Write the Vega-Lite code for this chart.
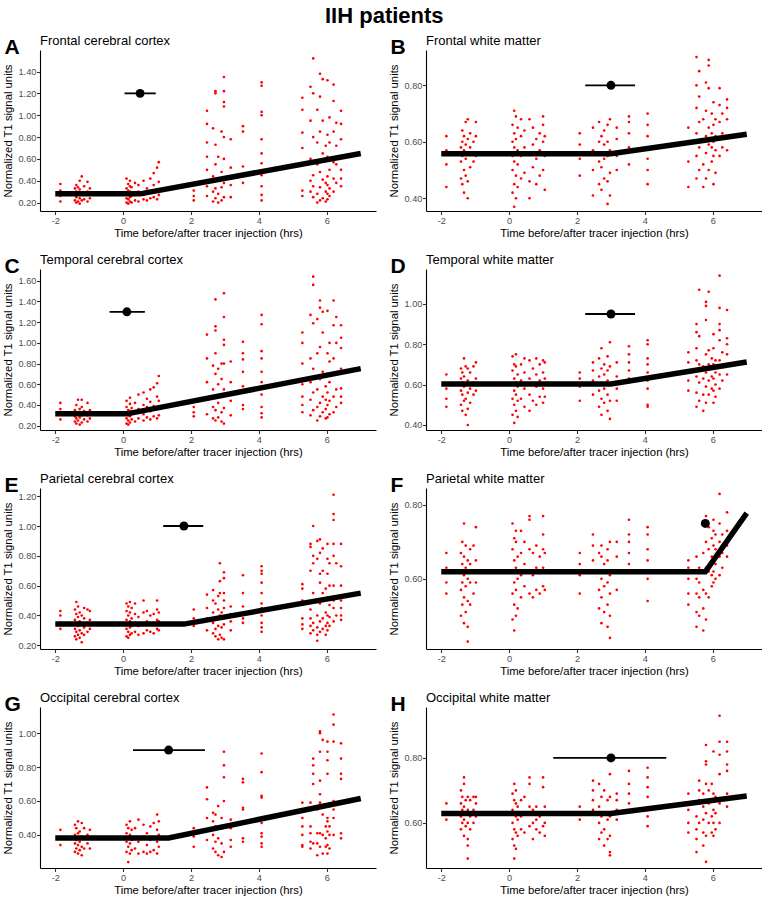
{
  "$schema": "https://vega.github.io/schema/vega-lite/v6.json",
  "title": {"text": "IIH patients", "anchor": "middle", "frame": "bounds", "fontSize": 22, "fontWeight": "bold", "offset": -9.6, "baseline": "alphabetic"},
  "padding": {"left": 2, "top": 4, "right": 0, "bottom": 0},
  "columns": 2,
  "spacing": {"row": 15, "column": 12},
  "config": {
    "font": "Liberation Sans",
    "view": {"stroke": null},
    "axis": {"grid": false, "labelOverlap": false, "domainColor": "#000000", "domainWidth": 1.1, "tickColor": "#333333", "tickWidth": 1.1, "tickSize": 3.5, "labelColor": "#4d4d4d", "labelFontSize": 9.2, "labelFont": "Liberation Sans", "titleFont": "Liberation Sans", "titleColor": "#000000", "titleFontSize": 11.3, "titleFontWeight": "normal"},
    "axisX": {"labelPadding": 1.6, "titlePadding": 2},
    "axisY": {"labelPadding": 0.6, "titlePadding": 4.5, "labelOverlap": false},
    "title": {"font": "Liberation Sans", "color": "#000000", "anchor": "start", "frame": "bounds", "fontSize": 21, "fontWeight": "bold", "baseline": "alphabetic", "offset": -23, "dx": 2}
  },
  "datasets": {
    "fits": [
      {"p": "A", "t": -2, "v": 0.28}, {"p": "A", "t": 0.5, "v": 0.28}, {"p": "A", "t": 7, "v": 0.65},
      {"p": "B", "t": -2, "v": 0.558}, {"p": "B", "t": 3.0, "v": 0.558}, {"p": "B", "t": 7, "v": 0.627},
      {"p": "C", "t": -2, "v": 0.314}, {"p": "C", "t": 0.11, "v": 0.314}, {"p": "C", "t": 7, "v": 0.751},
      {"p": "D", "t": -2, "v": 0.603}, {"p": "D", "t": 3.0, "v": 0.603}, {"p": "D", "t": 7, "v": 0.712},
      {"p": "E", "t": -2, "v": 0.342}, {"p": "E", "t": 1.79, "v": 0.342}, {"p": "E", "t": 7, "v": 0.55},
      {"p": "F", "t": -2, "v": 0.619}, {"p": "F", "t": 5.78, "v": 0.619}, {"p": "F", "t": 7, "v": 0.778},
      {"p": "G", "t": -2, "v": 0.382}, {"p": "G", "t": 1.34, "v": 0.382}, {"p": "G", "t": 7, "v": 0.615},
      {"p": "H", "t": -2, "v": 0.629}, {"p": "H", "t": 3.0, "v": 0.629}, {"p": "H", "t": 7, "v": 0.683}
    ],
    "est": [
      {"p": "A", "t": 0.5, "v": 1.2, "lo": 0.04, "hi": 0.96},
      {"p": "B", "t": 3.0, "v": 0.8, "lo": 2.24, "hi": 3.71},
      {"p": "C", "t": 0.11, "v": 1.3, "lo": -0.4, "hi": 0.64},
      {"p": "D", "t": 3.0, "v": 0.95, "lo": 2.24, "hi": 3.71},
      {"p": "E", "t": 1.79, "v": 1.0, "lo": 1.18, "hi": 2.36},
      {"p": "F", "t": 5.78, "v": 0.75, "lo": 5.7, "hi": 5.86},
      {"p": "G", "t": 1.34, "v": 0.9, "lo": 0.29, "hi": 2.41},
      {"p": "H", "t": 3.0, "v": 0.8, "lo": 1.3, "hi": 4.63}
    ],
    "A": [
      {"t":-1.85,"v":0.21},{"t":-1.85,"v":0.26},{"t":-1.85,"v":0.31},{"t":-1.85,"v":0.37},
      {"t":-1.42,"v":0.22},{"t":-1.42,"v":0.27},{"t":-1.42,"v":0.33},
      {"t":-1.38,"v":0.20},{"t":-1.38,"v":0.25},{"t":-1.38,"v":0.30},{"t":-1.38,"v":0.36},
      {"t":-1.33,"v":0.21},{"t":-1.33,"v":0.28},{"t":-1.33,"v":0.34},
      {"t":-1.28,"v":0.19},{"t":-1.28,"v":0.24},{"t":-1.28,"v":0.32},{"t":-1.28,"v":0.40},
      {"t":-1.22,"v":0.22},{"t":-1.22,"v":0.29},{"t":-1.22,"v":0.44},
      {"t":-1.15,"v":0.23},{"t":-1.15,"v":0.27},{"t":-1.15,"v":0.35},
      {"t":-1.05,"v":0.21},{"t":-1.05,"v":0.30},{"t":-1.05,"v":0.39},
      {"t":-0.98,"v":0.24},{"t":-0.98,"v":0.33},
      {"t":0.1,"v":0.20},{"t":0.1,"v":0.24},{"t":0.1,"v":0.28},{"t":0.1,"v":0.33},{"t":0.1,"v":0.42},
      {"t":0.15,"v":0.19},{"t":0.15,"v":0.23},{"t":0.15,"v":0.27},{"t":0.15,"v":0.31},{"t":0.15,"v":0.37},
      {"t":0.2,"v":0.21},{"t":0.2,"v":0.25},{"t":0.2,"v":0.30},{"t":0.2,"v":0.35},{"t":0.2,"v":0.40},
      {"t":0.25,"v":0.20},{"t":0.25,"v":0.26},{"t":0.25,"v":0.29},{"t":0.25,"v":0.34},
      {"t":0.35,"v":0.22},{"t":0.35,"v":0.28},{"t":0.35,"v":0.38},
      {"t":0.45,"v":0.21},{"t":0.45,"v":0.30},{"t":0.45,"v":0.36},
      {"t":0.6,"v":0.23},{"t":0.6,"v":0.27},{"t":0.6,"v":0.40},
      {"t":0.7,"v":0.22},{"t":0.7,"v":0.33},
      {"t":0.8,"v":0.24},{"t":0.8,"v":0.31},{"t":0.8,"v":0.42},
      {"t":0.9,"v":0.25},{"t":0.9,"v":0.36},{"t":0.9,"v":0.47},
      {"t":1.0,"v":0.23},{"t":1.0,"v":0.32},{"t":1.0,"v":0.52},
      {"t":1.05,"v":0.27},{"t":1.05,"v":0.39},{"t":1.05,"v":0.57},
      {"t":2.08,"v":0.22},{"t":2.08,"v":0.26},{"t":2.08,"v":0.31},
      {"t":2.47,"v":0.26},{"t":2.47,"v":0.35},{"t":2.47,"v":0.50},{"t":2.47,"v":0.62},{"t":2.47,"v":0.75},{"t":2.47,"v":0.92},{"t":2.47,"v":1.04},
      {"t":2.65,"v":0.21},{"t":2.65,"v":0.30},{"t":2.65,"v":0.44},{"t":2.65,"v":0.88},
      {"t":2.72,"v":0.24},{"t":2.72,"v":0.33},{"t":2.72,"v":0.55},{"t":2.72,"v":0.73},{"t":2.72,"v":1.20},{"t":2.72,"v":1.22},
      {"t":2.8,"v":0.20},{"t":2.8,"v":0.28},{"t":2.8,"v":0.40},{"t":2.8,"v":0.62},
      {"t":2.9,"v":0.22},{"t":2.9,"v":0.34},{"t":2.9,"v":0.48},{"t":2.9,"v":0.85},
      {"t":2.97,"v":0.25},{"t":2.97,"v":0.38},{"t":2.97,"v":0.60},{"t":2.97,"v":0.80},{"t":2.97,"v":1.08},{"t":2.97,"v":1.12},{"t":2.97,"v":1.22},{"t":2.97,"v":1.35},
      {"t":3.17,"v":0.25},{"t":3.17,"v":0.36},{"t":3.17,"v":0.52},{"t":3.17,"v":0.78},
      {"t":3.53,"v":0.38},{"t":3.53,"v":0.45},{"t":3.53,"v":0.53},{"t":3.53,"v":0.85},{"t":3.53,"v":0.90},
      {"t":4.08,"v":0.22},{"t":4.08,"v":0.27},{"t":4.08,"v":0.35},{"t":4.08,"v":0.45},{"t":4.08,"v":0.56},{"t":4.08,"v":0.65},{"t":4.08,"v":0.78},{"t":4.08,"v":1.00},{"t":4.08,"v":1.03},{"t":4.08,"v":1.27},{"t":4.08,"v":1.30},
      {"t":5.28,"v":0.26},{"t":5.28,"v":0.31},{"t":5.28,"v":0.55},{"t":5.28,"v":0.70},{"t":5.28,"v":0.84},{"t":5.28,"v":1.05},{"t":5.28,"v":1.16},
      {"t":5.52,"v":0.30},{"t":5.52,"v":0.40},{"t":5.52,"v":0.60},{"t":5.52,"v":0.95},{"t":5.52,"v":1.26},
      {"t":5.6,"v":0.25},{"t":5.6,"v":0.35},{"t":5.6,"v":0.45},{"t":5.6,"v":0.80},{"t":5.6,"v":1.20},{"t":5.6,"v":1.52},
      {"t":5.72,"v":0.20},{"t":5.72,"v":0.28},{"t":5.72,"v":0.55},{"t":5.72,"v":0.75},{"t":5.72,"v":1.05},
      {"t":5.8,"v":0.22},{"t":5.8,"v":0.34},{"t":5.8,"v":0.48},{"t":5.8,"v":0.85},{"t":5.8,"v":1.17},{"t":5.8,"v":1.38},
      {"t":5.88,"v":0.24},{"t":5.88,"v":0.41},{"t":5.88,"v":0.65},{"t":5.88,"v":0.95},{"t":5.88,"v":1.33},
      {"t":5.97,"v":0.21},{"t":5.97,"v":0.30},{"t":5.97,"v":0.38},{"t":5.97,"v":0.58},{"t":5.97,"v":0.72},
      {"t":6.02,"v":0.23},{"t":6.02,"v":0.28},{"t":6.02,"v":0.36},{"t":6.02,"v":0.44},{"t":6.02,"v":0.62},{"t":6.02,"v":0.82},{"t":6.02,"v":1.32},
      {"t":6.08,"v":0.26},{"t":6.08,"v":0.33},{"t":6.08,"v":0.50},{"t":6.08,"v":0.75},{"t":6.08,"v":0.98},
      {"t":6.2,"v":0.30},{"t":6.2,"v":0.42},{"t":6.2,"v":0.57},{"t":6.2,"v":0.85},{"t":6.2,"v":1.13},{"t":6.2,"v":1.28},
      {"t":6.28,"v":0.38},{"t":6.28,"v":0.55},{"t":6.28,"v":0.72},{"t":6.28,"v":0.93},
      {"t":6.42,"v":0.35},{"t":6.42,"v":0.42},{"t":6.42,"v":0.50},{"t":6.42,"v":0.62},{"t":6.42,"v":0.78},{"t":6.42,"v":0.92},{"t":6.42,"v":1.04}
    ],
    "B": [
      {"t":-1.85,"v":0.44},{"t":-1.85,"v":0.52},{"t":-1.85,"v":0.57},{"t":-1.85,"v":0.62},
      {"t":-1.42,"v":0.47},{"t":-1.42,"v":0.53},{"t":-1.42,"v":0.58},
      {"t":-1.38,"v":0.45},{"t":-1.38,"v":0.55},{"t":-1.38,"v":0.60},{"t":-1.38,"v":0.64},
      {"t":-1.33,"v":0.42},{"t":-1.33,"v":0.50},{"t":-1.33,"v":0.57},{"t":-1.33,"v":0.62},
      {"t":-1.28,"v":0.48},{"t":-1.28,"v":0.54},{"t":-1.28,"v":0.59},{"t":-1.28,"v":0.67},
      {"t":-1.22,"v":0.40},{"t":-1.22,"v":0.46},{"t":-1.22,"v":0.56},{"t":-1.22,"v":0.61},{"t":-1.22,"v":0.68},
      {"t":-1.15,"v":0.51},{"t":-1.15,"v":0.58},{"t":-1.15,"v":0.63},
      {"t":-1.05,"v":0.53},{"t":-1.05,"v":0.60},
      {"t":-0.98,"v":0.55},{"t":-0.98,"v":0.62},{"t":-0.98,"v":0.67},
      {"t":0.1,"v":0.42},{"t":0.1,"v":0.50},{"t":0.1,"v":0.55},{"t":0.1,"v":0.60},{"t":0.1,"v":0.66},
      {"t":0.15,"v":0.37},{"t":0.15,"v":0.45},{"t":0.15,"v":0.53},{"t":0.15,"v":0.58},{"t":0.15,"v":0.63},{"t":0.15,"v":0.71},
      {"t":0.2,"v":0.40},{"t":0.2,"v":0.48},{"t":0.2,"v":0.56},{"t":0.2,"v":0.61},{"t":0.2,"v":0.69},
      {"t":0.25,"v":0.44},{"t":0.25,"v":0.52},{"t":0.25,"v":0.57},{"t":0.25,"v":0.65},
      {"t":0.35,"v":0.47},{"t":0.35,"v":0.55},{"t":0.35,"v":0.62},{"t":0.35,"v":0.68},
      {"t":0.45,"v":0.49},{"t":0.45,"v":0.58},{"t":0.45,"v":0.64},
      {"t":0.6,"v":0.40},{"t":0.6,"v":0.46},{"t":0.6,"v":0.56},{"t":0.6,"v":0.68},
      {"t":0.7,"v":0.51},{"t":0.7,"v":0.59},{"t":0.7,"v":0.65},
      {"t":0.8,"v":0.45},{"t":0.8,"v":0.54},{"t":0.8,"v":0.61},
      {"t":0.9,"v":0.48},{"t":0.9,"v":0.57},{"t":0.9,"v":0.63},
      {"t":1.0,"v":0.50},{"t":1.0,"v":0.60},{"t":1.0,"v":0.66},{"t":1.0,"v":0.69},
      {"t":1.05,"v":0.43},{"t":1.05,"v":0.55},{"t":1.05,"v":0.62},
      {"t":2.08,"v":0.48},{"t":2.08,"v":0.54},{"t":2.08,"v":0.59},{"t":2.08,"v":0.63},
      {"t":2.47,"v":0.41},{"t":2.47,"v":0.50},{"t":2.47,"v":0.57},{"t":2.47,"v":0.65},
      {"t":2.65,"v":0.45},{"t":2.65,"v":0.53},{"t":2.65,"v":0.60},{"t":2.65,"v":0.67},
      {"t":2.72,"v":0.43},{"t":2.72,"v":0.51},{"t":2.72,"v":0.56},{"t":2.72,"v":0.62},
      {"t":2.8,"v":0.47},{"t":2.8,"v":0.54},{"t":2.8,"v":0.59},{"t":2.8,"v":0.64},
      {"t":2.9,"v":0.38},{"t":2.9,"v":0.46},{"t":2.9,"v":0.55},{"t":2.9,"v":0.60},{"t":2.9,"v":0.66},
      {"t":2.97,"v":0.41},{"t":2.97,"v":0.49},{"t":2.97,"v":0.57},{"t":2.97,"v":0.68},
      {"t":3.17,"v":0.50},{"t":3.17,"v":0.55},{"t":3.17,"v":0.61},{"t":3.17,"v":0.65},
      {"t":3.53,"v":0.52},{"t":3.53,"v":0.58},{"t":3.53,"v":0.63},{"t":3.53,"v":0.67},{"t":3.53,"v":0.69},
      {"t":4.08,"v":0.45},{"t":4.08,"v":0.50},{"t":4.08,"v":0.54},{"t":4.08,"v":0.58},{"t":4.08,"v":0.62},{"t":4.08,"v":0.66},{"t":4.08,"v":0.70},
      {"t":5.28,"v":0.44},{"t":5.28,"v":0.53},{"t":5.28,"v":0.60},{"t":5.28,"v":0.65},
      {"t":5.52,"v":0.47},{"t":5.52,"v":0.55},{"t":5.52,"v":0.63},{"t":5.52,"v":0.72},{"t":5.52,"v":0.80},{"t":5.52,"v":0.90},
      {"t":5.6,"v":0.50},{"t":5.6,"v":0.58},{"t":5.6,"v":0.67},{"t":5.6,"v":0.76},{"t":5.6,"v":0.85},
      {"t":5.72,"v":0.44},{"t":5.72,"v":0.52},{"t":5.72,"v":0.60},{"t":5.72,"v":0.68},
      {"t":5.8,"v":0.47},{"t":5.8,"v":0.56},{"t":5.8,"v":0.62},{"t":5.8,"v":0.71},{"t":5.8,"v":0.81},
      {"t":5.88,"v":0.50},{"t":5.88,"v":0.59},{"t":5.88,"v":0.65},{"t":5.88,"v":0.79},{"t":5.88,"v":0.87},{"t":5.88,"v":0.89},
      {"t":5.97,"v":0.53},{"t":5.97,"v":0.58},{"t":5.97,"v":0.63},{"t":5.97,"v":0.70},
      {"t":6.02,"v":0.45},{"t":6.02,"v":0.55},{"t":6.02,"v":0.60},{"t":6.02,"v":0.66},{"t":6.02,"v":0.74},
      {"t":6.08,"v":0.49},{"t":6.08,"v":0.57},{"t":6.08,"v":0.62},{"t":6.08,"v":0.68},
      {"t":6.2,"v":0.55},{"t":6.2,"v":0.61},{"t":6.2,"v":0.67},{"t":6.2,"v":0.73},{"t":6.2,"v":0.79},
      {"t":6.28,"v":0.58},{"t":6.28,"v":0.63},{"t":6.28,"v":0.70},
      {"t":6.42,"v":0.57},{"t":6.42,"v":0.62},{"t":6.42,"v":0.68},{"t":6.42,"v":0.72},{"t":6.42,"v":0.75}
    ],
    "C": [
      {"t":-1.85,"v":0.26},{"t":-1.85,"v":0.31},{"t":-1.85,"v":0.36},{"t":-1.85,"v":0.42},
      {"t":-1.42,"v":0.24},{"t":-1.42,"v":0.29},{"t":-1.42,"v":0.35},
      {"t":-1.38,"v":0.22},{"t":-1.38,"v":0.27},{"t":-1.38,"v":0.33},{"t":-1.38,"v":0.40},
      {"t":-1.33,"v":0.25},{"t":-1.33,"v":0.31},{"t":-1.33,"v":0.45},
      {"t":-1.28,"v":0.21},{"t":-1.28,"v":0.28},{"t":-1.28,"v":0.36},
      {"t":-1.22,"v":0.23},{"t":-1.22,"v":0.30},{"t":-1.22,"v":0.38},{"t":-1.22,"v":0.45},
      {"t":-1.15,"v":0.26},{"t":-1.15,"v":0.34},
      {"t":-1.05,"v":0.24},{"t":-1.05,"v":0.30},{"t":-1.05,"v":0.42},
      {"t":-0.98,"v":0.27},{"t":-0.98,"v":0.35},
      {"t":0.1,"v":0.22},{"t":0.1,"v":0.27},{"t":0.1,"v":0.32},{"t":0.1,"v":0.38},{"t":0.1,"v":0.44},
      {"t":0.15,"v":0.21},{"t":0.15,"v":0.25},{"t":0.15,"v":0.30},{"t":0.15,"v":0.35},
      {"t":0.2,"v":0.23},{"t":0.2,"v":0.29},{"t":0.2,"v":0.34},{"t":0.2,"v":0.41},{"t":0.2,"v":0.47},
      {"t":0.25,"v":0.26},{"t":0.25,"v":0.31},{"t":0.25,"v":0.37},
      {"t":0.35,"v":0.24},{"t":0.35,"v":0.33},{"t":0.35,"v":0.42},
      {"t":0.45,"v":0.27},{"t":0.45,"v":0.36},{"t":0.45,"v":0.50},
      {"t":0.6,"v":0.25},{"t":0.6,"v":0.31},{"t":0.6,"v":0.40},{"t":0.6,"v":0.52},
      {"t":0.7,"v":0.28},{"t":0.7,"v":0.38},{"t":0.7,"v":0.46},
      {"t":0.8,"v":0.26},{"t":0.8,"v":0.34},{"t":0.8,"v":0.43},{"t":0.8,"v":0.55},
      {"t":0.9,"v":0.29},{"t":0.9,"v":0.39},{"t":0.9,"v":0.57},
      {"t":1.0,"v":0.27},{"t":1.0,"v":0.36},{"t":1.0,"v":0.48},{"t":1.0,"v":0.61},
      {"t":1.05,"v":0.30},{"t":1.05,"v":0.44},{"t":1.05,"v":0.68},
      {"t":2.08,"v":0.29},{"t":2.08,"v":0.33},{"t":2.08,"v":0.38},
      {"t":2.47,"v":0.31},{"t":2.47,"v":0.45},{"t":2.47,"v":0.62},{"t":2.47,"v":0.85},{"t":2.47,"v":1.08},
      {"t":2.65,"v":0.27},{"t":2.65,"v":0.38},{"t":2.65,"v":0.55},{"t":2.65,"v":0.78},
      {"t":2.72,"v":0.25},{"t":2.72,"v":0.35},{"t":2.72,"v":0.48},{"t":2.72,"v":0.70},{"t":2.72,"v":0.90},{"t":2.72,"v":1.12},{"t":2.72,"v":1.16},{"t":2.72,"v":1.42},
      {"t":2.8,"v":0.28},{"t":2.8,"v":0.42},{"t":2.8,"v":0.60},{"t":2.8,"v":0.75},
      {"t":2.9,"v":0.24},{"t":2.9,"v":0.33},{"t":2.9,"v":0.50},{"t":2.9,"v":0.65},{"t":2.9,"v":0.80},
      {"t":2.97,"v":0.22},{"t":2.97,"v":0.37},{"t":2.97,"v":0.55},{"t":2.97,"v":0.80},{"t":2.97,"v":0.98},{"t":2.97,"v":1.03},{"t":2.97,"v":1.25},{"t":2.97,"v":1.48},
      {"t":3.17,"v":0.30},{"t":3.17,"v":0.44},{"t":3.17,"v":0.62},{"t":3.17,"v":0.82},
      {"t":3.53,"v":0.36},{"t":3.53,"v":0.40},{"t":3.53,"v":0.58},{"t":3.53,"v":0.72},{"t":3.53,"v":0.84},{"t":3.53,"v":0.90},{"t":3.53,"v":1.01},
      {"t":4.08,"v":0.28},{"t":4.08,"v":0.32},{"t":4.08,"v":0.38},{"t":4.08,"v":0.50},{"t":4.08,"v":0.62},{"t":4.08,"v":0.72},{"t":4.08,"v":0.85},{"t":4.08,"v":0.92},{"t":4.08,"v":1.18},{"t":4.08,"v":1.27},
      {"t":5.28,"v":0.33},{"t":5.28,"v":0.40},{"t":5.28,"v":0.48},{"t":5.28,"v":0.60},{"t":5.28,"v":0.80},{"t":5.28,"v":1.00},{"t":5.28,"v":1.10},
      {"t":5.52,"v":0.30},{"t":5.52,"v":0.45},{"t":5.52,"v":0.62},{"t":5.52,"v":0.85},{"t":5.52,"v":1.27},
      {"t":5.6,"v":0.35},{"t":5.6,"v":0.52},{"t":5.6,"v":0.75},{"t":5.6,"v":1.19},{"t":5.6,"v":1.56},{"t":5.6,"v":1.64},
      {"t":5.72,"v":0.25},{"t":5.72,"v":0.38},{"t":5.72,"v":0.55},{"t":5.72,"v":0.90},{"t":5.72,"v":1.23},
      {"t":5.8,"v":0.29},{"t":5.8,"v":0.42},{"t":5.8,"v":0.65},{"t":5.8,"v":0.96},{"t":5.8,"v":1.34},{"t":5.8,"v":1.41},
      {"t":5.88,"v":0.33},{"t":5.88,"v":0.48},{"t":5.88,"v":0.72},{"t":5.88,"v":1.10},{"t":5.88,"v":1.30},
      {"t":5.97,"v":0.27},{"t":5.97,"v":0.36},{"t":5.97,"v":0.45},{"t":5.97,"v":0.58},
      {"t":6.02,"v":0.28},{"t":6.02,"v":0.40},{"t":6.02,"v":0.52},{"t":6.02,"v":0.70},{"t":6.02,"v":0.90},{"t":6.02,"v":1.31},
      {"t":6.08,"v":0.31},{"t":6.08,"v":0.44},{"t":6.08,"v":0.62},{"t":6.08,"v":0.82},{"t":6.08,"v":1.00},
      {"t":6.2,"v":0.33},{"t":6.2,"v":0.48},{"t":6.2,"v":0.70},{"t":6.2,"v":0.85},{"t":6.2,"v":1.17},{"t":6.2,"v":1.41},
      {"t":6.28,"v":0.38},{"t":6.28,"v":0.55},{"t":6.28,"v":1.00},{"t":6.28,"v":1.25},
      {"t":6.42,"v":0.42},{"t":6.42,"v":0.48},{"t":6.42,"v":0.56},{"t":6.42,"v":0.75},{"t":6.42,"v":0.95},{"t":6.42,"v":1.05},{"t":6.42,"v":1.17}
    ],
    "D": [
      {"t":-1.85,"v":0.49},{"t":-1.85,"v":0.53},{"t":-1.85,"v":0.58},{"t":-1.85,"v":0.65},
      {"t":-1.42,"v":0.50},{"t":-1.42,"v":0.57},{"t":-1.42,"v":0.63},{"t":-1.42,"v":0.68},
      {"t":-1.38,"v":0.47},{"t":-1.38,"v":0.55},{"t":-1.38,"v":0.61},{"t":-1.38,"v":0.66},
      {"t":-1.33,"v":0.52},{"t":-1.33,"v":0.59},{"t":-1.33,"v":0.64},{"t":-1.33,"v":0.73},
      {"t":-1.28,"v":0.45},{"t":-1.28,"v":0.53},{"t":-1.28,"v":0.60},{"t":-1.28,"v":0.69},
      {"t":-1.22,"v":0.40},{"t":-1.22,"v":0.48},{"t":-1.22,"v":0.56},{"t":-1.22,"v":0.62},{"t":-1.22,"v":0.68},
      {"t":-1.15,"v":0.51},{"t":-1.15,"v":0.58},{"t":-1.15,"v":0.66},
      {"t":-1.05,"v":0.55},{"t":-1.05,"v":0.61},{"t":-1.05,"v":0.69},
      {"t":-0.98,"v":0.57},{"t":-0.98,"v":0.63},{"t":-0.98,"v":0.71},
      {"t":0.1,"v":0.45},{"t":0.1,"v":0.53},{"t":0.1,"v":0.60},{"t":0.1,"v":0.67},{"t":0.1,"v":0.74},
      {"t":0.15,"v":0.41},{"t":0.15,"v":0.50},{"t":0.15,"v":0.57},{"t":0.15,"v":0.63},{"t":0.15,"v":0.70},
      {"t":0.2,"v":0.47},{"t":0.2,"v":0.55},{"t":0.2,"v":0.61},{"t":0.2,"v":0.69},{"t":0.2,"v":0.75},
      {"t":0.25,"v":0.44},{"t":0.25,"v":0.52},{"t":0.25,"v":0.59},{"t":0.25,"v":0.65},
      {"t":0.35,"v":0.53},{"t":0.35,"v":0.62},{"t":0.35,"v":0.70},
      {"t":0.45,"v":0.49},{"t":0.45,"v":0.58},{"t":0.45,"v":0.66},{"t":0.45,"v":0.73},
      {"t":0.6,"v":0.47},{"t":0.6,"v":0.55},{"t":0.6,"v":0.63},{"t":0.6,"v":0.72},
      {"t":0.7,"v":0.52},{"t":0.7,"v":0.60},{"t":0.7,"v":0.68},
      {"t":0.8,"v":0.50},{"t":0.8,"v":0.59},{"t":0.8,"v":0.65},{"t":0.8,"v":0.73},
      {"t":0.9,"v":0.54},{"t":0.9,"v":0.62},{"t":0.9,"v":0.70},
      {"t":1.0,"v":0.51},{"t":1.0,"v":0.58},{"t":1.0,"v":0.66},{"t":1.0,"v":0.72},
      {"t":1.05,"v":0.54},{"t":1.05,"v":0.63},{"t":1.05,"v":0.71},
      {"t":2.08,"v":0.52},{"t":2.08,"v":0.59},{"t":2.08,"v":0.63},{"t":2.08,"v":0.66},
      {"t":2.47,"v":0.55},{"t":2.47,"v":0.62},{"t":2.47,"v":0.67},{"t":2.47,"v":0.71},
      {"t":2.65,"v":0.49},{"t":2.65,"v":0.57},{"t":2.65,"v":0.64},{"t":2.65,"v":0.73},
      {"t":2.72,"v":0.45},{"t":2.72,"v":0.53},{"t":2.72,"v":0.60},{"t":2.72,"v":0.68},{"t":2.72,"v":0.78},
      {"t":2.8,"v":0.51},{"t":2.8,"v":0.58},{"t":2.8,"v":0.65},{"t":2.8,"v":0.70},
      {"t":2.9,"v":0.47},{"t":2.9,"v":0.55},{"t":2.9,"v":0.62},{"t":2.9,"v":0.67},{"t":2.9,"v":0.74},
      {"t":2.97,"v":0.43},{"t":2.97,"v":0.52},{"t":2.97,"v":0.60},{"t":2.97,"v":0.69},{"t":2.97,"v":0.81},
      {"t":3.17,"v":0.52},{"t":3.17,"v":0.58},{"t":3.17,"v":0.64},{"t":3.17,"v":0.71},
      {"t":3.53,"v":0.63},{"t":3.53,"v":0.67},{"t":3.53,"v":0.71},{"t":3.53,"v":0.75},{"t":3.53,"v":0.79},
      {"t":4.08,"v":0.49},{"t":4.08,"v":0.50},{"t":4.08,"v":0.58},{"t":4.08,"v":0.62},{"t":4.08,"v":0.66},{"t":4.08,"v":0.70},{"t":4.08,"v":0.73},{"t":4.08,"v":0.80},{"t":4.08,"v":0.82},
      {"t":5.28,"v":0.57},{"t":5.28,"v":0.62},{"t":5.28,"v":0.67},{"t":5.28,"v":0.71},{"t":5.28,"v":0.76},
      {"t":5.52,"v":0.49},{"t":5.52,"v":0.56},{"t":5.52,"v":0.64},{"t":5.52,"v":0.72},{"t":5.52,"v":0.78},{"t":5.52,"v":0.86},{"t":5.52,"v":0.90},
      {"t":5.6,"v":0.52},{"t":5.6,"v":0.61},{"t":5.6,"v":0.70},{"t":5.6,"v":0.84},{"t":5.6,"v":1.07},
      {"t":5.72,"v":0.47},{"t":5.72,"v":0.55},{"t":5.72,"v":0.63},{"t":5.72,"v":0.69},
      {"t":5.8,"v":0.51},{"t":5.8,"v":0.59},{"t":5.8,"v":0.66},{"t":5.8,"v":0.75},{"t":5.8,"v":0.92},{"t":5.8,"v":0.99},{"t":5.8,"v":1.01},
      {"t":5.88,"v":0.55},{"t":5.88,"v":0.62},{"t":5.88,"v":0.70},{"t":5.88,"v":0.77},{"t":5.88,"v":1.06},
      {"t":5.97,"v":0.58},{"t":5.97,"v":0.64},{"t":5.97,"v":0.68},{"t":5.97,"v":0.73},
      {"t":6.02,"v":0.51},{"t":6.02,"v":0.57},{"t":6.02,"v":0.63},{"t":6.02,"v":0.70},{"t":6.02,"v":0.78},{"t":6.02,"v":0.85},
      {"t":6.08,"v":0.54},{"t":6.08,"v":0.60},{"t":6.08,"v":0.66},{"t":6.08,"v":0.72},
      {"t":6.2,"v":0.58},{"t":6.2,"v":0.65},{"t":6.2,"v":0.72},{"t":6.2,"v":0.82},{"t":6.2,"v":0.87},{"t":6.2,"v":0.90},{"t":6.2,"v":0.98},{"t":6.2,"v":1.14},
      {"t":6.28,"v":0.62},{"t":6.28,"v":0.69},{"t":6.28,"v":0.76},
      {"t":6.42,"v":0.65},{"t":6.42,"v":0.70},{"t":6.42,"v":0.75},{"t":6.42,"v":0.80},{"t":6.42,"v":0.83},{"t":6.42,"v":0.97}
    ],
    "E": [
      {"t":-1.85,"v":0.31},{"t":-1.85,"v":0.35},{"t":-1.85,"v":0.40},{"t":-1.85,"v":0.43},
      {"t":-1.42,"v":0.26},{"t":-1.42,"v":0.31},{"t":-1.42,"v":0.37},{"t":-1.42,"v":0.44},
      {"t":-1.38,"v":0.24},{"t":-1.38,"v":0.29},{"t":-1.38,"v":0.35},{"t":-1.38,"v":0.41},{"t":-1.38,"v":0.49},
      {"t":-1.33,"v":0.27},{"t":-1.33,"v":0.33},{"t":-1.33,"v":0.39},{"t":-1.33,"v":0.46},
      {"t":-1.28,"v":0.25},{"t":-1.28,"v":0.30},{"t":-1.28,"v":0.36},{"t":-1.28,"v":0.42},
      {"t":-1.22,"v":0.22},{"t":-1.22,"v":0.28},{"t":-1.22,"v":0.34},{"t":-1.22,"v":0.40},
      {"t":-1.15,"v":0.27},{"t":-1.15,"v":0.32},{"t":-1.15,"v":0.38},{"t":-1.15,"v":0.45},
      {"t":-1.05,"v":0.29},{"t":-1.05,"v":0.35},{"t":-1.05,"v":0.44},
      {"t":-0.98,"v":0.31},{"t":-0.98,"v":0.37},{"t":-0.98,"v":0.43},
      {"t":0.1,"v":0.26},{"t":0.1,"v":0.31},{"t":0.1,"v":0.37},{"t":0.1,"v":0.43},{"t":0.1,"v":0.48},
      {"t":0.15,"v":0.25},{"t":0.15,"v":0.29},{"t":0.15,"v":0.34},{"t":0.15,"v":0.40},{"t":0.15,"v":0.46},
      {"t":0.2,"v":0.27},{"t":0.2,"v":0.32},{"t":0.2,"v":0.36},{"t":0.2,"v":0.42},{"t":0.2,"v":0.49},
      {"t":0.25,"v":0.28},{"t":0.25,"v":0.33},{"t":0.25,"v":0.38},{"t":0.25,"v":0.45},
      {"t":0.35,"v":0.29},{"t":0.35,"v":0.35},{"t":0.35,"v":0.41},{"t":0.35,"v":0.48},
      {"t":0.45,"v":0.27},{"t":0.45,"v":0.33},{"t":0.45,"v":0.39},
      {"t":0.6,"v":0.28},{"t":0.6,"v":0.34},{"t":0.6,"v":0.42},{"t":0.6,"v":0.50},
      {"t":0.7,"v":0.30},{"t":0.7,"v":0.36},{"t":0.7,"v":0.43},
      {"t":0.8,"v":0.29},{"t":0.8,"v":0.34},{"t":0.8,"v":0.40},
      {"t":0.9,"v":0.28},{"t":0.9,"v":0.35},{"t":0.9,"v":0.41},
      {"t":1.0,"v":0.31},{"t":1.0,"v":0.37},{"t":1.0,"v":0.44},{"t":1.0,"v":0.50},
      {"t":1.05,"v":0.30},{"t":1.05,"v":0.36},{"t":1.05,"v":0.42},
      {"t":2.08,"v":0.33},{"t":2.08,"v":0.38},{"t":2.08,"v":0.44},
      {"t":2.47,"v":0.30},{"t":2.47,"v":0.38},{"t":2.47,"v":0.45},{"t":2.47,"v":0.54},
      {"t":2.65,"v":0.28},{"t":2.65,"v":0.35},{"t":2.65,"v":0.42},{"t":2.65,"v":0.50},{"t":2.65,"v":0.57},
      {"t":2.72,"v":0.26},{"t":2.72,"v":0.31},{"t":2.72,"v":0.38},{"t":2.72,"v":0.48},
      {"t":2.8,"v":0.24},{"t":2.8,"v":0.33},{"t":2.8,"v":0.44},{"t":2.8,"v":0.53},
      {"t":2.85,"v":0.27},{"t":2.85,"v":0.40},{"t":2.85,"v":0.55},{"t":2.85,"v":0.63},{"t":2.85,"v":0.75},
      {"t":2.9,"v":0.25},{"t":2.9,"v":0.32},{"t":2.9,"v":0.42},
      {"t":2.97,"v":0.24},{"t":2.97,"v":0.34},{"t":2.97,"v":0.45},{"t":2.97,"v":0.50},{"t":2.97,"v":0.55},{"t":2.97,"v":0.65},{"t":2.97,"v":0.69},
      {"t":3.17,"v":0.30},{"t":3.17,"v":0.36},{"t":3.17,"v":0.41},{"t":3.17,"v":0.46},
      {"t":3.53,"v":0.35},{"t":3.53,"v":0.38},{"t":3.53,"v":0.42},{"t":3.53,"v":0.46},{"t":3.53,"v":0.55},{"t":3.53,"v":0.67},
      {"t":4.08,"v":0.29},{"t":4.08,"v":0.32},{"t":4.08,"v":0.35},{"t":4.08,"v":0.40},{"t":4.08,"v":0.45},{"t":4.08,"v":0.48},{"t":4.08,"v":0.55},{"t":4.08,"v":0.62},{"t":4.08,"v":0.68},{"t":4.08,"v":0.70},{"t":4.08,"v":0.73},
      {"t":5.28,"v":0.31},{"t":5.28,"v":0.34},{"t":5.28,"v":0.38},{"t":5.28,"v":0.50},{"t":5.28,"v":0.58},{"t":5.28,"v":0.61},
      {"t":5.52,"v":0.28},{"t":5.52,"v":0.33},{"t":5.52,"v":0.38},{"t":5.52,"v":0.44},{"t":5.52,"v":0.70},{"t":5.52,"v":0.86},{"t":5.52,"v":0.88},
      {"t":5.6,"v":0.30},{"t":5.6,"v":0.35},{"t":5.6,"v":0.55},{"t":5.6,"v":0.75},{"t":5.6,"v":0.80},{"t":5.6,"v":1.00},
      {"t":5.72,"v":0.23},{"t":5.72,"v":0.27},{"t":5.72,"v":0.32},{"t":5.72,"v":0.40},{"t":5.72,"v":0.78},{"t":5.72,"v":0.90},
      {"t":5.8,"v":0.29},{"t":5.8,"v":0.36},{"t":5.8,"v":0.48},{"t":5.8,"v":0.62},{"t":5.8,"v":0.68},{"t":5.8,"v":0.82},{"t":5.8,"v":0.91},
      {"t":5.88,"v":0.31},{"t":5.88,"v":0.38},{"t":5.88,"v":0.55},{"t":5.88,"v":0.70},{"t":5.88,"v":0.85},
      {"t":5.97,"v":0.27},{"t":5.97,"v":0.33},{"t":5.97,"v":0.42},{"t":5.97,"v":0.58},
      {"t":6.02,"v":0.30},{"t":6.02,"v":0.35},{"t":6.02,"v":0.40},{"t":6.02,"v":0.52},{"t":6.02,"v":0.68},{"t":6.02,"v":0.78},{"t":6.02,"v":0.88},
      {"t":6.08,"v":0.33},{"t":6.08,"v":0.39},{"t":6.08,"v":0.47},{"t":6.08,"v":0.60},{"t":6.08,"v":0.75},
      {"t":6.2,"v":0.36},{"t":6.2,"v":0.45},{"t":6.2,"v":0.50},{"t":6.2,"v":0.60},{"t":6.2,"v":0.80},{"t":6.2,"v":0.88},{"t":6.2,"v":1.04},{"t":6.2,"v":1.08},{"t":6.2,"v":1.21},
      {"t":6.28,"v":0.40},{"t":6.28,"v":0.52},{"t":6.28,"v":0.75},
      {"t":6.42,"v":0.37},{"t":6.42,"v":0.40},{"t":6.42,"v":0.45},{"t":6.42,"v":0.50},{"t":6.42,"v":0.60},{"t":6.42,"v":0.73},{"t":6.42,"v":0.88}
    ],
    "F": [
      {"t":-1.85,"v":0.56},{"t":-1.85,"v":0.59},{"t":-1.85,"v":0.63},{"t":-1.85,"v":0.67},
      {"t":-1.42,"v":0.50},{"t":-1.42,"v":0.57},{"t":-1.42,"v":0.62},{"t":-1.42,"v":0.67},
      {"t":-1.38,"v":0.53},{"t":-1.38,"v":0.59},{"t":-1.38,"v":0.64},{"t":-1.38,"v":0.70},
      {"t":-1.33,"v":0.48},{"t":-1.33,"v":0.55},{"t":-1.33,"v":0.61},{"t":-1.33,"v":0.66},{"t":-1.33,"v":0.75},
      {"t":-1.28,"v":0.51},{"t":-1.28,"v":0.58},{"t":-1.28,"v":0.63},{"t":-1.28,"v":0.69},
      {"t":-1.22,"v":0.43},{"t":-1.22,"v":0.47},{"t":-1.22,"v":0.54},{"t":-1.22,"v":0.60},{"t":-1.22,"v":0.65},
      {"t":-1.15,"v":0.53},{"t":-1.15,"v":0.59},{"t":-1.15,"v":0.64},{"t":-1.15,"v":0.68},
      {"t":-1.05,"v":0.56},{"t":-1.05,"v":0.62},{"t":-1.05,"v":0.69},
      {"t":-0.98,"v":0.59},{"t":-0.98,"v":0.65},{"t":-0.98,"v":0.74},
      {"t":0.1,"v":0.49},{"t":0.1,"v":0.56},{"t":0.1,"v":0.62},{"t":0.1,"v":0.68},{"t":0.1,"v":0.75},
      {"t":0.15,"v":0.46},{"t":0.15,"v":0.53},{"t":0.15,"v":0.59},{"t":0.15,"v":0.65},{"t":0.15,"v":0.71},
      {"t":0.2,"v":0.50},{"t":0.2,"v":0.57},{"t":0.2,"v":0.63},{"t":0.2,"v":0.70},{"t":0.2,"v":0.73},
      {"t":0.25,"v":0.52},{"t":0.25,"v":0.60},{"t":0.25,"v":0.66},
      {"t":0.35,"v":0.55},{"t":0.35,"v":0.61},{"t":0.35,"v":0.67},{"t":0.35,"v":0.73},
      {"t":0.45,"v":0.58},{"t":0.45,"v":0.64},{"t":0.45,"v":0.70},
      {"t":0.6,"v":0.56},{"t":0.6,"v":0.62},{"t":0.6,"v":0.68},{"t":0.6,"v":0.76},{"t":0.6,"v":0.77},
      {"t":0.7,"v":0.55},{"t":0.7,"v":0.61},{"t":0.7,"v":0.67},
      {"t":0.8,"v":0.57},{"t":0.8,"v":0.63},{"t":0.8,"v":0.69},
      {"t":0.9,"v":0.56},{"t":0.9,"v":0.62},{"t":0.9,"v":0.66},
      {"t":1.0,"v":0.58},{"t":1.0,"v":0.63},{"t":1.0,"v":0.68},{"t":1.0,"v":0.72},{"t":1.0,"v":0.77},
      {"t":1.05,"v":0.57},{"t":1.05,"v":0.62},{"t":1.05,"v":0.67},
      {"t":2.08,"v":0.56},{"t":2.08,"v":0.61},{"t":2.08,"v":0.64},{"t":2.08,"v":0.67},
      {"t":2.47,"v":0.62},{"t":2.47,"v":0.65},{"t":2.47,"v":0.69},{"t":2.47,"v":0.72},
      {"t":2.65,"v":0.52},{"t":2.65,"v":0.57},{"t":2.65,"v":0.62},{"t":2.65,"v":0.67},
      {"t":2.72,"v":0.48},{"t":2.72,"v":0.55},{"t":2.72,"v":0.60},{"t":2.72,"v":0.66},{"t":2.72,"v":0.69},
      {"t":2.8,"v":0.51},{"t":2.8,"v":0.58},{"t":2.8,"v":0.64},
      {"t":2.9,"v":0.47},{"t":2.9,"v":0.53},{"t":2.9,"v":0.59},{"t":2.9,"v":0.65},{"t":2.9,"v":0.68},
      {"t":2.97,"v":0.44},{"t":2.97,"v":0.50},{"t":2.97,"v":0.56},{"t":2.97,"v":0.61},{"t":2.97,"v":0.70},
      {"t":3.17,"v":0.57},{"t":3.17,"v":0.62},{"t":3.17,"v":0.66},{"t":3.17,"v":0.70},
      {"t":3.53,"v":0.64},{"t":3.53,"v":0.67},{"t":3.53,"v":0.70},{"t":3.53,"v":0.72},{"t":3.53,"v":0.76},
      {"t":4.08,"v":0.54},{"t":4.08,"v":0.60},{"t":4.08,"v":0.62},{"t":4.08,"v":0.65},{"t":4.08,"v":0.68},{"t":4.08,"v":0.72},{"t":4.08,"v":0.74},
      {"t":5.28,"v":0.53},{"t":5.28,"v":0.56},{"t":5.28,"v":0.60},{"t":5.28,"v":0.63},{"t":5.28,"v":0.65},
      {"t":5.52,"v":0.47},{"t":5.52,"v":0.51},{"t":5.52,"v":0.56},{"t":5.52,"v":0.60},{"t":5.52,"v":0.66},
      {"t":5.6,"v":0.50},{"t":5.6,"v":0.55},{"t":5.6,"v":0.59},{"t":5.6,"v":0.63},
      {"t":5.72,"v":0.46},{"t":5.72,"v":0.52},{"t":5.72,"v":0.57},{"t":5.72,"v":0.62},{"t":5.72,"v":0.67},
      {"t":5.8,"v":0.49},{"t":5.8,"v":0.56},{"t":5.8,"v":0.63},{"t":5.8,"v":0.70},{"t":5.8,"v":0.77},
      {"t":5.88,"v":0.55},{"t":5.88,"v":0.62},{"t":5.88,"v":0.68},{"t":5.88,"v":0.74},
      {"t":5.97,"v":0.58},{"t":5.97,"v":0.61},{"t":5.97,"v":0.66},{"t":5.97,"v":0.71},
      {"t":6.02,"v":0.59},{"t":6.02,"v":0.62},{"t":6.02,"v":0.65},{"t":6.02,"v":0.69},{"t":6.02,"v":0.73},{"t":6.02,"v":0.76},
      {"t":6.08,"v":0.60},{"t":6.08,"v":0.64},{"t":6.08,"v":0.68},{"t":6.08,"v":0.72},
      {"t":6.2,"v":0.61},{"t":6.2,"v":0.66},{"t":6.2,"v":0.70},{"t":6.2,"v":0.75},{"t":6.2,"v":0.83},
      {"t":6.28,"v":0.63},{"t":6.28,"v":0.67},{"t":6.28,"v":0.72},
      {"t":6.42,"v":0.66},{"t":6.42,"v":0.69},{"t":6.42,"v":0.73},{"t":6.42,"v":0.78}
    ],
    "G": [
      {"t":-1.85,"v":0.34},{"t":-1.85,"v":0.38},{"t":-1.85,"v":0.43},
      {"t":-1.42,"v":0.30},{"t":-1.42,"v":0.35},{"t":-1.42,"v":0.40},{"t":-1.42,"v":0.46},
      {"t":-1.38,"v":0.32},{"t":-1.38,"v":0.37},{"t":-1.38,"v":0.44},
      {"t":-1.33,"v":0.29},{"t":-1.33,"v":0.34},{"t":-1.33,"v":0.41},{"t":-1.33,"v":0.48},
      {"t":-1.28,"v":0.31},{"t":-1.28,"v":0.36},{"t":-1.28,"v":0.42},
      {"t":-1.22,"v":0.28},{"t":-1.22,"v":0.33},{"t":-1.22,"v":0.39},{"t":-1.22,"v":0.47},
      {"t":-1.15,"v":0.32},{"t":-1.15,"v":0.38},{"t":-1.15,"v":0.44},
      {"t":-1.05,"v":0.35},{"t":-1.05,"v":0.40},
      {"t":-0.98,"v":0.32},{"t":-0.98,"v":0.38},{"t":-0.98,"v":0.43},
      {"t":0.1,"v":0.30},{"t":0.1,"v":0.36},{"t":0.1,"v":0.41},{"t":0.1,"v":0.46},
      {"t":0.15,"v":0.24},{"t":0.15,"v":0.33},{"t":0.15,"v":0.38},{"t":0.15,"v":0.44},
      {"t":0.2,"v":0.29},{"t":0.2,"v":0.35},{"t":0.2,"v":0.40},{"t":0.2,"v":0.48},
      {"t":0.25,"v":0.31},{"t":0.25,"v":0.37},{"t":0.25,"v":0.43},
      {"t":0.35,"v":0.32},{"t":0.35,"v":0.38},{"t":0.35,"v":0.44},
      {"t":0.45,"v":0.29},{"t":0.45,"v":0.36},{"t":0.45,"v":0.49},
      {"t":0.6,"v":0.30},{"t":0.6,"v":0.39},{"t":0.6,"v":0.46},
      {"t":0.7,"v":0.29},{"t":0.7,"v":0.34},{"t":0.7,"v":0.41},
      {"t":0.8,"v":0.30},{"t":0.8,"v":0.37},{"t":0.8,"v":0.45},
      {"t":0.9,"v":0.31},{"t":0.9,"v":0.38},{"t":0.9,"v":0.47},
      {"t":1.0,"v":0.29},{"t":1.0,"v":0.36},{"t":1.0,"v":0.43},{"t":1.0,"v":0.52},
      {"t":1.05,"v":0.33},{"t":1.05,"v":0.40},{"t":1.05,"v":0.48},
      {"t":2.08,"v":0.33},{"t":2.08,"v":0.39},{"t":2.08,"v":0.44},
      {"t":2.47,"v":0.37},{"t":2.47,"v":0.43},{"t":2.47,"v":0.50},{"t":2.47,"v":0.61},{"t":2.47,"v":0.68},
      {"t":2.65,"v":0.32},{"t":2.65,"v":0.40},{"t":2.65,"v":0.48},{"t":2.65,"v":0.53},
      {"t":2.72,"v":0.30},{"t":2.72,"v":0.36},{"t":2.72,"v":0.45},{"t":2.72,"v":0.52},
      {"t":2.8,"v":0.28},{"t":2.8,"v":0.38},{"t":2.8,"v":0.57},
      {"t":2.9,"v":0.27},{"t":2.9,"v":0.35},{"t":2.9,"v":0.44},{"t":2.9,"v":0.50},
      {"t":2.97,"v":0.30},{"t":2.97,"v":0.45},{"t":2.97,"v":0.60},{"t":2.97,"v":0.74},{"t":2.97,"v":0.81},{"t":2.97,"v":0.89},
      {"t":3.17,"v":0.33},{"t":3.17,"v":0.37},{"t":3.17,"v":0.44},{"t":3.17,"v":0.49},
      {"t":3.53,"v":0.36},{"t":3.53,"v":0.38},{"t":3.53,"v":0.55},{"t":3.53,"v":0.56},{"t":3.53,"v":0.71},{"t":3.53,"v":0.73},
      {"t":4.08,"v":0.33},{"t":4.08,"v":0.35},{"t":4.08,"v":0.39},{"t":4.08,"v":0.41},{"t":4.08,"v":0.47},{"t":4.08,"v":0.62},{"t":4.08,"v":0.63},{"t":4.08,"v":0.77},{"t":4.08,"v":0.88},
      {"t":5.28,"v":0.33},{"t":5.28,"v":0.34},{"t":5.28,"v":0.40},{"t":5.28,"v":0.45},{"t":5.28,"v":0.50},{"t":5.28,"v":0.59},
      {"t":5.52,"v":0.32},{"t":5.52,"v":0.36},{"t":5.52,"v":0.41},{"t":5.52,"v":0.45},{"t":5.52,"v":0.59},
      {"t":5.6,"v":0.35},{"t":5.6,"v":0.70},{"t":5.6,"v":0.76},{"t":5.6,"v":0.81},{"t":5.6,"v":0.85},
      {"t":5.72,"v":0.28},{"t":5.72,"v":0.35},{"t":5.72,"v":0.41},{"t":5.72,"v":0.55},
      {"t":5.8,"v":0.33},{"t":5.8,"v":0.41},{"t":5.8,"v":0.59},{"t":5.8,"v":0.64},{"t":5.8,"v":0.72},{"t":5.8,"v":0.89},{"t":5.8,"v":1.00},{"t":5.8,"v":1.01},
      {"t":5.88,"v":0.29},{"t":5.88,"v":0.40},{"t":5.88,"v":0.52},{"t":5.88,"v":0.96},
      {"t":5.97,"v":0.33},{"t":5.97,"v":0.38},{"t":5.97,"v":0.45},
      {"t":6.02,"v":0.29},{"t":6.02,"v":0.34},{"t":6.02,"v":0.42},{"t":6.02,"v":0.48},{"t":6.02,"v":0.50},{"t":6.02,"v":0.76},{"t":6.02,"v":0.84},{"t":6.02,"v":0.89},{"t":6.02,"v":0.95},
      {"t":6.08,"v":0.32},{"t":6.08,"v":0.40},{"t":6.08,"v":0.45},
      {"t":6.2,"v":0.40},{"t":6.2,"v":0.50},{"t":6.2,"v":0.55},{"t":6.2,"v":0.60},{"t":6.2,"v":0.95},{"t":6.2,"v":1.05},{"t":6.2,"v":1.11},
      {"t":6.42,"v":0.38},{"t":6.42,"v":0.41},{"t":6.42,"v":0.73},{"t":6.42,"v":0.76},{"t":6.42,"v":0.85},{"t":6.42,"v":0.94}
    ],
    "H": [
      {"t":-1.85,"v":0.61},{"t":-1.85,"v":0.63},{"t":-1.85,"v":0.66},
      {"t":-1.42,"v":0.58},{"t":-1.42,"v":0.62},{"t":-1.42,"v":0.66},{"t":-1.42,"v":0.70},
      {"t":-1.38,"v":0.60},{"t":-1.38,"v":0.64},{"t":-1.38,"v":0.68},
      {"t":-1.33,"v":0.56},{"t":-1.33,"v":0.61},{"t":-1.33,"v":0.65},{"t":-1.33,"v":0.72},{"t":-1.33,"v":0.74},
      {"t":-1.28,"v":0.59},{"t":-1.28,"v":0.63},{"t":-1.28,"v":0.67},
      {"t":-1.22,"v":0.49},{"t":-1.22,"v":0.53},{"t":-1.22,"v":0.55},{"t":-1.22,"v":0.60},{"t":-1.22,"v":0.64},{"t":-1.22,"v":0.68},
      {"t":-1.15,"v":0.58},{"t":-1.15,"v":0.62},{"t":-1.15,"v":0.67},
      {"t":-1.05,"v":0.60},{"t":-1.05,"v":0.64},{"t":-1.05,"v":0.68},
      {"t":-0.98,"v":0.62},{"t":-0.98,"v":0.66},{"t":-0.98,"v":0.68},
      {"t":0.1,"v":0.55},{"t":0.1,"v":0.60},{"t":0.1,"v":0.64},{"t":0.1,"v":0.69},
      {"t":0.15,"v":0.49},{"t":0.15,"v":0.53},{"t":0.15,"v":0.58},{"t":0.15,"v":0.63},{"t":0.15,"v":0.67},{"t":0.15,"v":0.72},
      {"t":0.2,"v":0.52},{"t":0.2,"v":0.57},{"t":0.2,"v":0.62},{"t":0.2,"v":0.66},{"t":0.2,"v":0.70},
      {"t":0.25,"v":0.56},{"t":0.25,"v":0.61},{"t":0.25,"v":0.65},
      {"t":0.35,"v":0.58},{"t":0.35,"v":0.62},{"t":0.35,"v":0.67},
      {"t":0.45,"v":0.57},{"t":0.45,"v":0.63},{"t":0.45,"v":0.68},
      {"t":0.6,"v":0.59},{"t":0.6,"v":0.65},{"t":0.6,"v":0.72},{"t":0.6,"v":0.74},
      {"t":0.7,"v":0.55},{"t":0.7,"v":0.60},{"t":0.7,"v":0.64},
      {"t":0.8,"v":0.58},{"t":0.8,"v":0.61},{"t":0.8,"v":0.65},
      {"t":0.9,"v":0.57},{"t":0.9,"v":0.62},
      {"t":1.0,"v":0.59},{"t":1.0,"v":0.63},{"t":1.0,"v":0.71},{"t":1.0,"v":0.74},
      {"t":1.05,"v":0.56},{"t":1.05,"v":0.60},{"t":1.05,"v":0.65},
      {"t":2.08,"v":0.61},{"t":2.08,"v":0.63},{"t":2.08,"v":0.65},
      {"t":2.47,"v":0.64},{"t":2.47,"v":0.67},{"t":2.47,"v":0.70},{"t":2.47,"v":0.73},
      {"t":2.65,"v":0.55},{"t":2.65,"v":0.60},{"t":2.65,"v":0.65},{"t":2.65,"v":0.72},
      {"t":2.72,"v":0.57},{"t":2.72,"v":0.62},{"t":2.72,"v":0.68},
      {"t":2.8,"v":0.53},{"t":2.8,"v":0.58},{"t":2.8,"v":0.63},{"t":2.8,"v":0.70},
      {"t":2.9,"v":0.55},{"t":2.9,"v":0.61},{"t":2.9,"v":0.67},
      {"t":2.97,"v":0.50},{"t":2.97,"v":0.51},{"t":2.97,"v":0.56},{"t":2.97,"v":0.62},{"t":2.97,"v":0.68},{"t":2.97,"v":0.75},
      {"t":3.17,"v":0.61},{"t":3.17,"v":0.64},{"t":3.17,"v":0.67},{"t":3.17,"v":0.69},
      {"t":3.53,"v":0.66},{"t":3.53,"v":0.69},{"t":3.53,"v":0.72},{"t":3.53,"v":0.76},
      {"t":4.08,"v":0.59},{"t":4.08,"v":0.62},{"t":4.08,"v":0.64},{"t":4.08,"v":0.68},{"t":4.08,"v":0.71},{"t":4.08,"v":0.74},{"t":4.08,"v":0.77},
      {"t":5.28,"v":0.57},{"t":5.28,"v":0.60},{"t":5.28,"v":0.64},{"t":5.28,"v":0.69},
      {"t":5.52,"v":0.51},{"t":5.52,"v":0.55},{"t":5.52,"v":0.58},{"t":5.52,"v":0.62},
      {"t":5.6,"v":0.60},{"t":5.6,"v":0.67},{"t":5.6,"v":0.70},{"t":5.6,"v":0.73},
      {"t":5.72,"v":0.53},{"t":5.72,"v":0.57},{"t":5.72,"v":0.61},{"t":5.72,"v":0.65},{"t":5.72,"v":0.69},
      {"t":5.8,"v":0.48},{"t":5.8,"v":0.56},{"t":5.8,"v":0.63},{"t":5.8,"v":0.72},{"t":5.8,"v":0.78},{"t":5.8,"v":0.79},{"t":5.8,"v":0.84},
      {"t":5.88,"v":0.60},{"t":5.88,"v":0.66},{"t":5.88,"v":0.70},
      {"t":5.97,"v":0.57},{"t":5.97,"v":0.62},{"t":5.97,"v":0.67},{"t":5.97,"v":0.72},
      {"t":6.02,"v":0.56},{"t":6.02,"v":0.60},{"t":6.02,"v":0.64},{"t":6.02,"v":0.69},{"t":6.02,"v":0.82},
      {"t":6.08,"v":0.58},{"t":6.08,"v":0.63},{"t":6.08,"v":0.68},
      {"t":6.2,"v":0.60},{"t":6.2,"v":0.66},{"t":6.2,"v":0.75},{"t":6.2,"v":0.81},{"t":6.2,"v":0.85},{"t":6.2,"v":0.93},
      {"t":6.42,"v":0.65},{"t":6.42,"v":0.69},{"t":6.42,"v":0.76},{"t":6.42,"v":0.78},{"t":6.42,"v":0.82},{"t":6.42,"v":0.85}
    ]
  },
  "concat": [
    {"title": {"text": "A"}, "vconcat": [{
      "width": 336, "height": 161,
      "title": {"text": "Frontal cerebral cortex", "frame": "group", "fontSize": 13, "fontWeight": "normal", "offset": 2, "dx": 0},
      "layer": [
        {"data": {"name": "A"}, "mark": {"type": "circle", "size": 7, "color": "#ff0000", "opacity": 1},
         "encoding": {
           "x": {"field": "t", "type": "quantitative", "scale": {"domain": [-2.45, 7.45], "nice": false, "zero": false}, "axis": {"title": "Time before/after tracer injection (hrs)", "values": [-2, 0, 2, 4, 6], "tickCount": 20, "labelExpr": "'' + datum.value"}},
           "y": {"field": "v", "type": "quantitative", "scale": {"domain": [0.123, 1.597], "nice": false, "zero": false}, "axis": {"title": "Normalized T1 signal units", "values": [0.2, 0.4, 0.6, 0.8, 1.0, 1.2, 1.4], "tickCount": 20, "format": ".2f", "labelOverlap": false}}}},
        {"data": {"name": "fits"}, "transform": [{"filter": "datum.p === 'A'"}], "mark": {"type": "line", "color": "#000000", "strokeWidth": 5.5, "strokeCap": "butt"},
         "encoding": {"x": {"field": "t", "type": "quantitative"}, "y": {"field": "v", "type": "quantitative"}}},
        {"data": {"name": "est"}, "transform": [{"filter": "datum.p === 'A'"}], "mark": {"type": "rule", "color": "#000000", "strokeWidth": 1.8},
         "encoding": {"x": {"field": "lo", "type": "quantitative"}, "x2": {"field": "hi"}, "y": {"field": "v", "type": "quantitative"}}},
        {"data": {"name": "est"}, "transform": [{"filter": "datum.p === 'A'"}], "mark": {"type": "circle", "size": 80, "color": "#000000", "opacity": 1},
         "encoding": {"x": {"field": "t", "type": "quantitative"}, "y": {"field": "v", "type": "quantitative"}}}
      ]}]},
    {"title": {"text": "B"}, "vconcat": [{
      "width": 336, "height": 161,
      "title": {"text": "Frontal white matter", "frame": "group", "fontSize": 13, "fontWeight": "normal", "offset": 2, "dx": 0},
      "layer": [
        {"data": {"name": "B"}, "mark": {"type": "circle", "size": 7, "color": "#ff0000", "opacity": 1},
         "encoding": {
           "x": {"field": "t", "type": "quantitative", "scale": {"domain": [-2.45, 7.45], "nice": false, "zero": false}, "axis": {"title": "Time before/after tracer injection (hrs)", "values": [-2, 0, 2, 4, 6], "tickCount": 20, "labelExpr": "'' + datum.value"}},
           "y": {"field": "v", "type": "quantitative", "scale": {"domain": [0.355, 0.925], "nice": false, "zero": false}, "axis": {"title": "Normalized T1 signal units", "values": [0.4, 0.6, 0.8], "tickCount": 20, "format": ".2f", "labelOverlap": false}}}},
        {"data": {"name": "fits"}, "transform": [{"filter": "datum.p === 'B'"}], "mark": {"type": "line", "color": "#000000", "strokeWidth": 5.5, "strokeCap": "butt"},
         "encoding": {"x": {"field": "t", "type": "quantitative"}, "y": {"field": "v", "type": "quantitative"}}},
        {"data": {"name": "est"}, "transform": [{"filter": "datum.p === 'B'"}], "mark": {"type": "rule", "color": "#000000", "strokeWidth": 1.8},
         "encoding": {"x": {"field": "lo", "type": "quantitative"}, "x2": {"field": "hi"}, "y": {"field": "v", "type": "quantitative"}}},
        {"data": {"name": "est"}, "transform": [{"filter": "datum.p === 'B'"}], "mark": {"type": "circle", "size": 80, "color": "#000000", "opacity": 1},
         "encoding": {"x": {"field": "t", "type": "quantitative"}, "y": {"field": "v", "type": "quantitative"}}}
      ]}]},
    {"title": {"text": "C"}, "vconcat": [{
      "width": 336, "height": 161,
      "title": {"text": "Temporal cerebral cortex", "frame": "group", "fontSize": 13, "fontWeight": "normal", "offset": 2, "dx": 0},
      "layer": [
        {"data": {"name": "C"}, "mark": {"type": "circle", "size": 7, "color": "#ff0000", "opacity": 1},
         "encoding": {
           "x": {"field": "t", "type": "quantitative", "scale": {"domain": [-2.45, 7.45], "nice": false, "zero": false}, "axis": {"title": "Time before/after tracer injection (hrs)", "values": [-2, 0, 2, 4, 6], "tickCount": 20, "labelExpr": "'' + datum.value"}},
           "y": {"field": "v", "type": "quantitative", "scale": {"domain": [0.158, 1.714], "nice": false, "zero": false}, "axis": {"title": "Normalized T1 signal units", "values": [0.2, 0.4, 0.6, 0.8, 1.0, 1.2, 1.4, 1.6], "tickCount": 20, "format": ".2f", "labelOverlap": false}}}},
        {"data": {"name": "fits"}, "transform": [{"filter": "datum.p === 'C'"}], "mark": {"type": "line", "color": "#000000", "strokeWidth": 5.5, "strokeCap": "butt"},
         "encoding": {"x": {"field": "t", "type": "quantitative"}, "y": {"field": "v", "type": "quantitative"}}},
        {"data": {"name": "est"}, "transform": [{"filter": "datum.p === 'C'"}], "mark": {"type": "rule", "color": "#000000", "strokeWidth": 1.8},
         "encoding": {"x": {"field": "lo", "type": "quantitative"}, "x2": {"field": "hi"}, "y": {"field": "v", "type": "quantitative"}}},
        {"data": {"name": "est"}, "transform": [{"filter": "datum.p === 'C'"}], "mark": {"type": "circle", "size": 80, "color": "#000000", "opacity": 1},
         "encoding": {"x": {"field": "t", "type": "quantitative"}, "y": {"field": "v", "type": "quantitative"}}}
      ]}]},
    {"title": {"text": "D"}, "vconcat": [{
      "width": 336, "height": 161,
      "title": {"text": "Temporal white matter", "frame": "group", "fontSize": 13, "fontWeight": "normal", "offset": 2, "dx": 0},
      "layer": [
        {"data": {"name": "D"}, "mark": {"type": "circle", "size": 7, "color": "#ff0000", "opacity": 1},
         "encoding": {
           "x": {"field": "t", "type": "quantitative", "scale": {"domain": [-2.45, 7.45], "nice": false, "zero": false}, "axis": {"title": "Time before/after tracer injection (hrs)", "values": [-2, 0, 2, 4, 6], "tickCount": 20, "labelExpr": "'' + datum.value"}},
           "y": {"field": "v", "type": "quantitative", "scale": {"domain": [0.375, 1.173], "nice": false, "zero": false}, "axis": {"title": "Normalized T1 signal units", "values": [0.4, 0.6, 0.8, 1.0], "tickCount": 20, "format": ".2f", "labelOverlap": false}}}},
        {"data": {"name": "fits"}, "transform": [{"filter": "datum.p === 'D'"}], "mark": {"type": "line", "color": "#000000", "strokeWidth": 5.5, "strokeCap": "butt"},
         "encoding": {"x": {"field": "t", "type": "quantitative"}, "y": {"field": "v", "type": "quantitative"}}},
        {"data": {"name": "est"}, "transform": [{"filter": "datum.p === 'D'"}], "mark": {"type": "rule", "color": "#000000", "strokeWidth": 1.8},
         "encoding": {"x": {"field": "lo", "type": "quantitative"}, "x2": {"field": "hi"}, "y": {"field": "v", "type": "quantitative"}}},
        {"data": {"name": "est"}, "transform": [{"filter": "datum.p === 'D'"}], "mark": {"type": "circle", "size": 80, "color": "#000000", "opacity": 1},
         "encoding": {"x": {"field": "t", "type": "quantitative"}, "y": {"field": "v", "type": "quantitative"}}}
      ]}]},
    {"title": {"text": "E"}, "vconcat": [{
      "width": 336, "height": 161,
      "title": {"text": "Parietal cerebral cortex", "frame": "group", "fontSize": 13, "fontWeight": "normal", "offset": 2, "dx": 0},
      "layer": [
        {"data": {"name": "E"}, "mark": {"type": "circle", "size": 7, "color": "#ff0000", "opacity": 1},
         "encoding": {
           "x": {"field": "t", "type": "quantitative", "scale": {"domain": [-2.45, 7.45], "nice": false, "zero": false}, "axis": {"title": "Time before/after tracer injection (hrs)", "values": [-2, 0, 2, 4, 6], "tickCount": 20, "labelExpr": "'' + datum.value"}},
           "y": {"field": "v", "type": "quantitative", "scale": {"domain": [0.175, 1.255], "nice": false, "zero": false}, "axis": {"title": "Normalized T1 signal units", "values": [0.2, 0.4, 0.6, 0.8, 1.0, 1.2], "tickCount": 20, "format": ".2f", "labelOverlap": false}}}},
        {"data": {"name": "fits"}, "transform": [{"filter": "datum.p === 'E'"}], "mark": {"type": "line", "color": "#000000", "strokeWidth": 5.5, "strokeCap": "butt"},
         "encoding": {"x": {"field": "t", "type": "quantitative"}, "y": {"field": "v", "type": "quantitative"}}},
        {"data": {"name": "est"}, "transform": [{"filter": "datum.p === 'E'"}], "mark": {"type": "rule", "color": "#000000", "strokeWidth": 1.8},
         "encoding": {"x": {"field": "lo", "type": "quantitative"}, "x2": {"field": "hi"}, "y": {"field": "v", "type": "quantitative"}}},
        {"data": {"name": "est"}, "transform": [{"filter": "datum.p === 'E'"}], "mark": {"type": "circle", "size": 80, "color": "#000000", "opacity": 1},
         "encoding": {"x": {"field": "t", "type": "quantitative"}, "y": {"field": "v", "type": "quantitative"}}}
      ]}]},
    {"title": {"text": "F"}, "vconcat": [{
      "width": 336, "height": 161,
      "title": {"text": "Parietal white matter", "frame": "group", "fontSize": 13, "fontWeight": "normal", "offset": 2, "dx": 0},
      "layer": [
        {"data": {"name": "F"}, "mark": {"type": "circle", "size": 7, "color": "#ff0000", "opacity": 1},
         "encoding": {
           "x": {"field": "t", "type": "quantitative", "scale": {"domain": [-2.45, 7.45], "nice": false, "zero": false}, "axis": {"title": "Time before/after tracer injection (hrs)", "values": [-2, 0, 2, 4, 6], "tickCount": 20, "labelExpr": "'' + datum.value"}},
           "y": {"field": "v", "type": "quantitative", "scale": {"domain": [0.41, 0.846], "nice": false, "zero": false}, "axis": {"title": "Normalized T1 signal units", "values": [0.6, 0.8], "tickCount": 20, "format": ".2f", "labelOverlap": false}}}},
        {"data": {"name": "fits"}, "transform": [{"filter": "datum.p === 'F'"}], "mark": {"type": "line", "color": "#000000", "strokeWidth": 5.5, "strokeCap": "butt"},
         "encoding": {"x": {"field": "t", "type": "quantitative"}, "y": {"field": "v", "type": "quantitative"}}},
        {"data": {"name": "est"}, "transform": [{"filter": "datum.p === 'F'"}], "mark": {"type": "rule", "color": "#000000", "strokeWidth": 1.8},
         "encoding": {"x": {"field": "lo", "type": "quantitative"}, "x2": {"field": "hi"}, "y": {"field": "v", "type": "quantitative"}}},
        {"data": {"name": "est"}, "transform": [{"filter": "datum.p === 'F'"}], "mark": {"type": "circle", "size": 80, "color": "#000000", "opacity": 1},
         "encoding": {"x": {"field": "t", "type": "quantitative"}, "y": {"field": "v", "type": "quantitative"}}}
      ]}]},
    {"title": {"text": "G"}, "vconcat": [{
      "width": 336, "height": 161,
      "title": {"text": "Occipital cerebral cortex", "frame": "group", "fontSize": 13, "fontWeight": "normal", "offset": 2, "dx": 0},
      "layer": [
        {"data": {"name": "G"}, "mark": {"type": "circle", "size": 7, "color": "#ff0000", "opacity": 1},
         "encoding": {
           "x": {"field": "t", "type": "quantitative", "scale": {"domain": [-2.45, 7.45], "nice": false, "zero": false}, "axis": {"title": "Time before/after tracer injection (hrs)", "values": [-2, 0, 2, 4, 6], "tickCount": 20, "labelExpr": "'' + datum.value"}},
           "y": {"field": "v", "type": "quantitative", "scale": {"domain": [0.205, 1.154], "nice": false, "zero": false}, "axis": {"title": "Normalized T1 signal units", "values": [0.4, 0.6, 0.8, 1.0], "tickCount": 20, "format": ".2f", "labelOverlap": false}}}},
        {"data": {"name": "fits"}, "transform": [{"filter": "datum.p === 'G'"}], "mark": {"type": "line", "color": "#000000", "strokeWidth": 5.5, "strokeCap": "butt"},
         "encoding": {"x": {"field": "t", "type": "quantitative"}, "y": {"field": "v", "type": "quantitative"}}},
        {"data": {"name": "est"}, "transform": [{"filter": "datum.p === 'G'"}], "mark": {"type": "rule", "color": "#000000", "strokeWidth": 1.8},
         "encoding": {"x": {"field": "lo", "type": "quantitative"}, "x2": {"field": "hi"}, "y": {"field": "v", "type": "quantitative"}}},
        {"data": {"name": "est"}, "transform": [{"filter": "datum.p === 'G'"}], "mark": {"type": "circle", "size": 80, "color": "#000000", "opacity": 1},
         "encoding": {"x": {"field": "t", "type": "quantitative"}, "y": {"field": "v", "type": "quantitative"}}}
      ]}]},
    {"title": {"text": "H"}, "vconcat": [{
      "width": 336, "height": 161,
      "title": {"text": "Occipital white matter", "frame": "group", "fontSize": 13, "fontWeight": "normal", "offset": 2, "dx": 0},
      "layer": [
        {"data": {"name": "H"}, "mark": {"type": "circle", "size": 7, "color": "#ff0000", "opacity": 1},
         "encoding": {
           "x": {"field": "t", "type": "quantitative", "scale": {"domain": [-2.45, 7.45], "nice": false, "zero": false}, "axis": {"title": "Time before/after tracer injection (hrs)", "values": [-2, 0, 2, 4, 6], "tickCount": 20, "labelExpr": "'' + datum.value"}},
           "y": {"field": "v", "type": "quantitative", "scale": {"domain": [0.461, 0.957], "nice": false, "zero": false}, "axis": {"title": "Normalized T1 signal units", "values": [0.6, 0.8], "tickCount": 20, "format": ".2f", "labelOverlap": false}}}},
        {"data": {"name": "fits"}, "transform": [{"filter": "datum.p === 'H'"}], "mark": {"type": "line", "color": "#000000", "strokeWidth": 5.5, "strokeCap": "butt"},
         "encoding": {"x": {"field": "t", "type": "quantitative"}, "y": {"field": "v", "type": "quantitative"}}},
        {"data": {"name": "est"}, "transform": [{"filter": "datum.p === 'H'"}], "mark": {"type": "rule", "color": "#000000", "strokeWidth": 1.8},
         "encoding": {"x": {"field": "lo", "type": "quantitative"}, "x2": {"field": "hi"}, "y": {"field": "v", "type": "quantitative"}}},
        {"data": {"name": "est"}, "transform": [{"filter": "datum.p === 'H'"}], "mark": {"type": "circle", "size": 80, "color": "#000000", "opacity": 1},
         "encoding": {"x": {"field": "t", "type": "quantitative"}, "y": {"field": "v", "type": "quantitative"}}}
      ]}]}
  ]
}
